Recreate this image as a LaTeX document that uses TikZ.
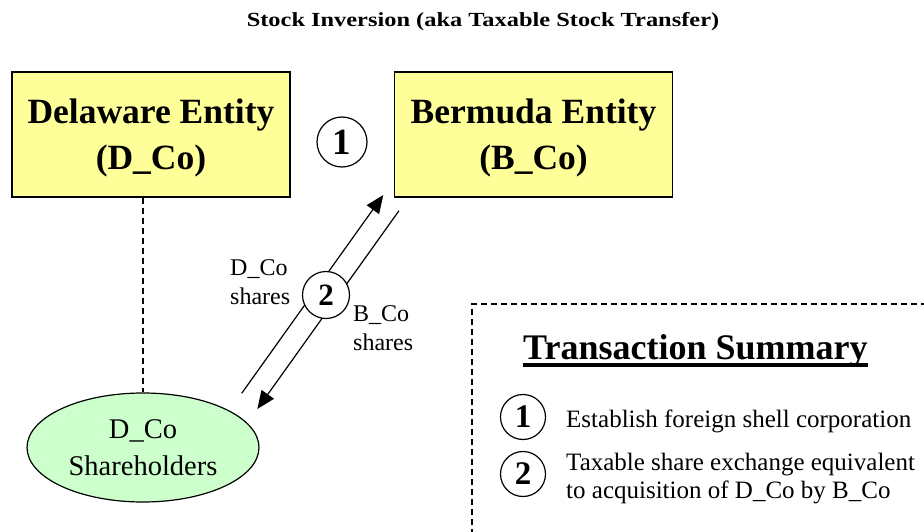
\documentclass[tikz,border=0pt]{standalone}
\usepackage{fontspec}
\setmainfont{Liberation Serif}
\newfontfamily\titlefont[FakeStretch=1.22]{Liberation Serif}
\usetikzlibrary{arrows.meta,shapes.geometric}
\definecolor{boxyellow}{RGB}{255,255,153}
\definecolor{holdgreen}{RGB}{204,255,204}
\tikzset{
  entity/.style={draw, line width=1.3pt, fill=boxyellow, minimum width=278pt,
    minimum height=125pt, inner sep=0pt},
  entitytext/.style={align=center, inner sep=0pt, anchor=base,
    font=\fontsize{35.5}{47}\selectfont\bfseries},
  holders/.style={ellipse, draw, line width=1.2pt, fill=holdgreen,
    minimum width=232pt, minimum height=109pt, inner sep=0pt, align=center,
    font=\fontsize{28.5}{37}\selectfont},
  stepnum/.style={circle, draw, line width=1.2pt, fill=white, inner sep=0pt,
    font=\bfseries},
  flow/.style={line width=1.2pt, -{Triangle[length=18pt,width=15pt]}},
  link/.style={line width=1.1pt, dash pattern=on 6pt off 4pt},
  sharelbl/.style={align=left, inner sep=0pt, anchor=base west,
    font=\fontsize{24}{29}\selectfont},
  itemtext/.style={align=left, inner sep=0pt, anchor=base west,
    font=\fontsize{25}{28}\selectfont}
}
\begin{document}
\begin{tikzpicture}[x=1pt, y=-1pt]
\useasboundingbox (0,0) rectangle (924,532);
\clip (0,0) rectangle (924,532);

% heading
\node[anchor=base, inner sep=0pt, font=\titlefont\fontsize{20}{22}\selectfont\bfseries]
  (title) at (483,27) {Stock Inversion (aka Taxable Stock Transfer)};

% the two entities (multi-line text is anchored at its last baseline)
\node[entity] (dco) at (151,134.5) {};
\node[entitytext] (dcotext) at (151,170) {Delaware Entity\\(D\_Co)};
\node[entity] (bco) at (533.5,134.5) {};
\node[entitytext] (bcotext) at (533.5,170) {Bermuda Entity\\(B\_Co)};
\node[stepnum, minimum size=50pt, font=\fontsize{37}{37}\selectfont\bfseries]
  (s1) at (342,142) {1};

% shareholders
\node[holders] (sh) at (143,447.5) {D\_Co\\Shareholders};
\draw[link] (dco.south -| sh.north) -- (sh.north);

% share exchange
\coordinate (upfrom) at (241.7,393.3);
\coordinate (upto)   at (383.3,195);
\coordinate (dnfrom) at (399,210.7);
\coordinate (dnto)   at (257.3,409);
\draw[flow] (upfrom) -- (upto);
\draw[flow] (dnfrom) -- (dnto);
\node[stepnum, minimum size=47pt, font=\fontsize{31}{31}\selectfont\bfseries]
  (s2) at (326,295) {2};
\node[sharelbl] (dlbl) at (230,304) {D\_Co\\shares};
\node[sharelbl] (blbl) at (353,350) {B\_Co\\shares};

% summary panel
\draw[link] (472,545) -- (472,304) -- (940,304);
\node[anchor=base west, inner sep=0pt, font=\fontsize{36}{36}\selectfont\bfseries]
  (sumtitle) at (523,359) {Transaction Summary};
\draw[line width=3.5pt] ([yshift=-6pt]sumtitle.base west) -- ([yshift=-6pt]sumtitle.base east);
\node[stepnum, minimum size=45pt, font=\fontsize{33}{33}\selectfont\bfseries]
  (k1) at (523,417) {1};
\node[stepnum, minimum size=45pt, font=\fontsize{33}{33}\selectfont\bfseries]
  (k2) at (523,474) {2};
\node[itemtext] (t1) at (566,427) {Establish foreign shell corporation};
\node[itemtext] (t2) at (566,498) {Taxable share exchange equivalent\\to acquisition of D\_Co by B\_Co};
\end{tikzpicture}
\end{document}
